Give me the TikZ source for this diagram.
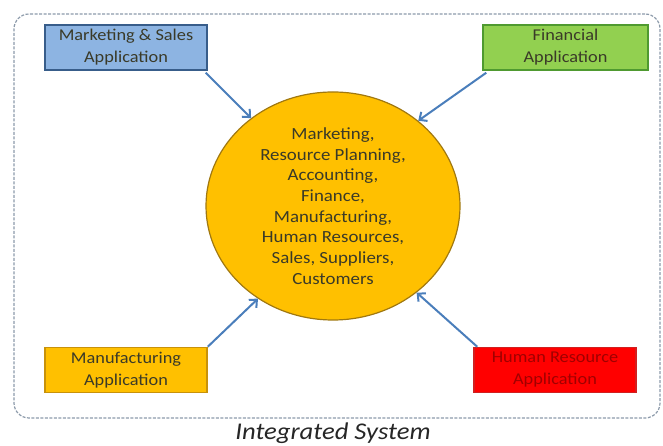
\documentclass[tikz,border=0pt]{standalone}
\usepackage{fontspec}
\setmainfont{Carlito}[FakeStretch=1.11]
\usetikzlibrary{positioning, arrows.meta, shapes.geometric}
\definecolor{mktblue}{HTML}{8DB4E2}
\definecolor{mktdraw}{HTML}{385D8A}
\definecolor{fingreen}{HTML}{92D050}
\definecolor{findraw}{HTML}{4F9A30}
\definecolor{mfgorange}{HTML}{FFC000}
\definecolor{mfgdraw}{HTML}{C8920A}
\definecolor{hrred}{HTML}{FF0000}
\definecolor{hrdraw}{HTML}{D02020}
\definecolor{hrtext}{HTML}{A00000}
\definecolor{coredraw}{HTML}{A07810}
\definecolor{arrowblue}{HTML}{4A7EBB}
\definecolor{framegray}{HTML}{8C9AAA}
\definecolor{textdark}{HTML}{3A3A28}

\begin{document}
\begin{tikzpicture}[
    x=1pt, y=1pt,
    appbox/.style={draw, line width=1.5pt, minimum height=45, minimum width=162,
                   font=\fontsize{16.5}{22}\selectfont, text=textdark, align=center,
                   inner sep=0pt},
    mktbox/.style={appbox, fill=mktblue, draw=mktdraw},
    finbox/.style={appbox, fill=fingreen, draw=findraw, minimum width=165},
    mfgbox/.style={appbox, fill=mfgorange, draw=mfgdraw},
    hrbox/.style={appbox, fill=hrred, draw=hrdraw, text=hrtext},
    core/.style={ellipse, draw=coredraw, line width=1.2pt, fill=mfgorange,
                 minimum width=254, minimum height=228, inner sep=0pt,
                 font=\fontsize{17}{20.7}\selectfont, text=textdark, align=center},
    frame/.style={draw=framegray, line width=1.2pt, dash pattern=on 3pt off 1.5pt,
                  rounded corners=15pt, minimum width=646, minimum height=404},
    arrow/.style={-{Straight Barb[length=6pt, width=11pt]}, line width=2pt, arrowblue},
]
\useasboundingbox (0,0) rectangle (663,446);

% === Outer frame ===
\node[frame] (system) at (337,230) {};

% === Core module ===
\node[core] (core) at (333,240) {Marketing,\\Resource Planning,\\Accounting,\\Finance,\\
  Manufacturing,\\Human Resources,\\Sales, Suppliers,\\Customers};

% === Applications ===
\node[mktbox] (mkt) at (126,398.5) {Marketing \& Sales\\Application};
\node[finbox] (fin) at (565.5,398.5) {Financial\\Application};
\node[mfgbox] (mfg) at (126,76) {Manufacturing\\Application};
\node[hrbox]  (hr)  at (555,76) {Human Resource\\Application};

% === Arrows ===
\draw[arrow] (mkt.south east) ++(-2,-2) -- (core.133);
\draw[arrow] (fin.south west) ++(4,-2) -- (core.45);
\draw[arrow] (mfg.north east) -- (core.231);
\draw[arrow] (hr.north west) ++(4,0) -- (core.314);

% === Caption ===
\node[font=\fontsize{24}{26}\selectfont\itshape, text=black!85] (caption)
  at (333,13) {Integrated System};

\end{tikzpicture}
\end{document}
